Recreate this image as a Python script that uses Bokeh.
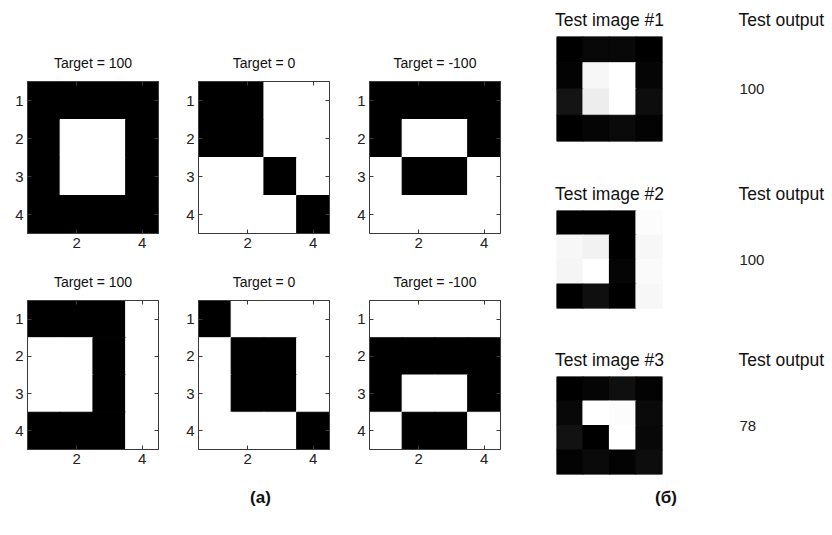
from bokeh.plotting import figure
from bokeh.layouts import row, column
from bokeh.models import (ColumnDataSource, Div, FixedTicker, Range1d, LinearAxis,
                          CustomLabelingPolicy)
from bokeh.core.properties import value
from bokeh.embed import file_html
from bokeh.resources import INLINE

FONT = "Liberation Sans"

# ---- data ----
targets = [100, 0, -100, 100, 0, -100]
# 1 = black pixel, 0 = white pixel; rows top to bottom
pattern_1 = [[1, 1, 1, 1], [1, 0, 0, 1], [1, 0, 0, 1], [1, 1, 1, 1]]
pattern_2 = [[1, 1, 0, 0], [1, 1, 0, 0], [0, 0, 1, 0], [0, 0, 0, 1]]
pattern_3 = [[1, 1, 1, 1], [1, 0, 0, 1], [0, 1, 1, 0], [0, 0, 0, 0]]
pattern_4 = [[1, 1, 1, 0], [0, 0, 1, 0], [0, 0, 1, 0], [1, 1, 1, 0]]
pattern_5 = [[1, 0, 0, 0], [0, 1, 1, 0], [0, 1, 1, 0], [0, 0, 0, 1]]
pattern_6 = [[0, 0, 0, 0], [1, 1, 1, 1], [1, 0, 0, 1], [0, 1, 1, 0]]
patterns = [pattern_1, pattern_2, pattern_3, pattern_4, pattern_5, pattern_6]

# test images: brightness, 0 = black, 1 = white
test_image_1 = [[0.00, 0.03, 0.03, 0.00], [0.01, 0.97, 1.00, 0.02],
                [0.08, 0.93, 1.00, 0.05], [0.00, 0.02, 0.04, 0.01]]
test_image_2 = [[0.00, 0.00, 0.00, 0.99], [0.97, 0.95, 0.00, 0.97],
                [0.96, 1.00, 0.02, 0.98], [0.00, 0.06, 0.00, 0.97]]
test_image_3 = [[0.00, 0.02, 0.06, 0.01], [0.03, 1.00, 0.99, 0.04],
                [0.07, 0.00, 1.00, 0.03], [0.01, 0.04, 0.01, 0.05]]
test_images = [test_image_1, test_image_2, test_image_3]
test_outputs = [100, 100, 78]

x_ticks = [2, 4]
y_ticks = [1, 2, 3, 4]


def gray(v):
    g = int(round(v * 255))
    return "#%02x%02x%02x" % (g, g, g)


def cells(mat, binary):
    xs, ys, cs = [], [], []
    for r, line in enumerate(mat):
        for c, v in enumerate(line):
            xs.append(c + 1)
            ys.append(r + 1)
            cs.append(("#000000" if v else "#ffffff") if binary else gray(v))
    return ColumnDataSource(dict(x=xs, y=ys, color=cs))


AX = "#3a3a3a"


def style_axis(ax, labels=True):
    ax.axis_line_color = AX
    ax.major_tick_line_color = AX
    ax.major_tick_in = 4
    ax.major_tick_out = 0
    ax.minor_tick_line_color = None
    ax.major_label_text_font = FONT
    ax.major_label_text_color = "#222222"
    if labels:
        ax.major_label_text_font_size = "15px"
        ax.major_label_standoff = 4
    else:
        ax.major_label_text_font_size = "1px"
        ax.major_label_standoff = 0
        ax.major_label_policy = CustomLabelingPolicy(
            code="for (const i of indices) { indices.unset(i) }\nreturn indices")


def pattern_fig(mat, target, left, top, bottom):
    p = figure(width=left + 131 + 21, height=top + 152 + bottom,
               x_range=Range1d(0.5, 4.5), y_range=Range1d(4.5, 0.5),
               output_backend="svg", toolbar_location=None,
               min_border_left=left, min_border_right=21,
               min_border_top=top, min_border_bottom=bottom,
               x_axis_location=None, y_axis_location=None,
               title="Target = %d" % target)
    p.title.text_font = FONT
    p.title.text_font_size = "14px"
    p.title.text_font_style = "normal"
    p.title.align = "center"
    p.title.text_color = "#111111"
    p.title.standoff = 13
    p.grid.visible = False
    p.outline_line_color = AX
    p.outline_line_width = 1
    p.rect(x="x", y="y", width=1, height=1, source=cells(mat, True),
           fill_color="color", line_color="color", line_width=1.2)
    for loc, ticks, lab in (("below", x_ticks, True), ("left", y_ticks, True),
                            ("above", x_ticks, False), ("right", y_ticks, False)):
        ax = LinearAxis(ticker=FixedTicker(ticks=ticks))
        style_axis(ax, lab)
        p.add_layout(ax, loc)
    return p


def test_fig(mat, k, top, bottom):
    p = figure(width=179, height=top + 106 + bottom,
               x_range=Range1d(0.5, 4.5), y_range=Range1d(4.5, 0.5),
               output_backend="svg", toolbar_location=None,
               min_border_left=35, min_border_right=38,
               min_border_top=top, min_border_bottom=bottom,
               x_axis_location=None, y_axis_location=None,
               title="Test image #%d" % k)
    p.title.text_font = FONT
    p.title.text_font_size = "17.5px"
    p.title.text_font_style = "normal"
    p.title.align = "center"
    p.title.text_color = "#111111"
    p.title.standoff = 14
    p.grid.visible = False
    p.outline_line_color = None
    p.rect(x="x", y="y", width=1, height=1, source=cells(mat, False),
           fill_color="color", line_color="color", line_width=1.2)
    return p


def output_fig(val, top, bottom):
    p = figure(width=132, height=top + 106 + bottom,
               x_range=Range1d(0, 1), y_range=Range1d(0, 1),
               output_backend="svg", toolbar_location=None,
               min_border_left=38, min_border_right=0,
               min_border_top=top, min_border_bottom=bottom,
               x_axis_location=None, y_axis_location=None,
               title="Test output")
    p.title.text_font = FONT
    p.title.text_font_size = "17.5px"
    p.title.text_font_style = "normal"
    p.title.align = "left"
    p.title.text_color = "#111111"
    p.title.standoff = 14
    p.grid.visible = False
    p.outline_line_color = None
    src = ColumnDataSource(dict(x=[0.01], y=[0.5], t=[str(val)]))
    p.text(x="x", y="y", text="t", source=src, text_font=value(FONT),
           text_font_size="15px", text_baseline="middle", text_align="left",
           text_color="#222222")
    return p


lefts = [27, 19, 19]
figs = [pattern_fig(patterns[i], targets[i], lefts[i], 81, 32) for i in range(3)]
figs += [pattern_fig(patterns[i], targets[i], lefts[i - 3], 32, 31) for i in range(3, 6)]

lbl_style = ("font-family:'Liberation Sans';font-weight:bold;font-size:17px;"
             "text-align:center;line-height:35px;width:%dpx;color:#111;")
div_a = Div(text='<div style="%s">(а)</div>' % (lbl_style % 521),
            width=521, height=35, margin=0)
left = column(row(*figs[:3]), row(*figs[3:]), div_a)

tops = [35, 28, 28]
bottoms = [33, 32, 6]
rows_r = []
for k in range(3):
    rows_r.append(row(test_fig(test_images[k], k + 1, tops[k], bottoms[k]),
                      output_fig(test_outputs[k], tops[k], bottoms[k])))
div_b = Div(text='<div style="%s">(б)</div>' % (lbl_style % 290),
            width=311, height=35, margin=0)
right = column(*rows_r, div_b)

page = row(left, right)
open("out.html", "w").write(file_html(page, INLINE))
